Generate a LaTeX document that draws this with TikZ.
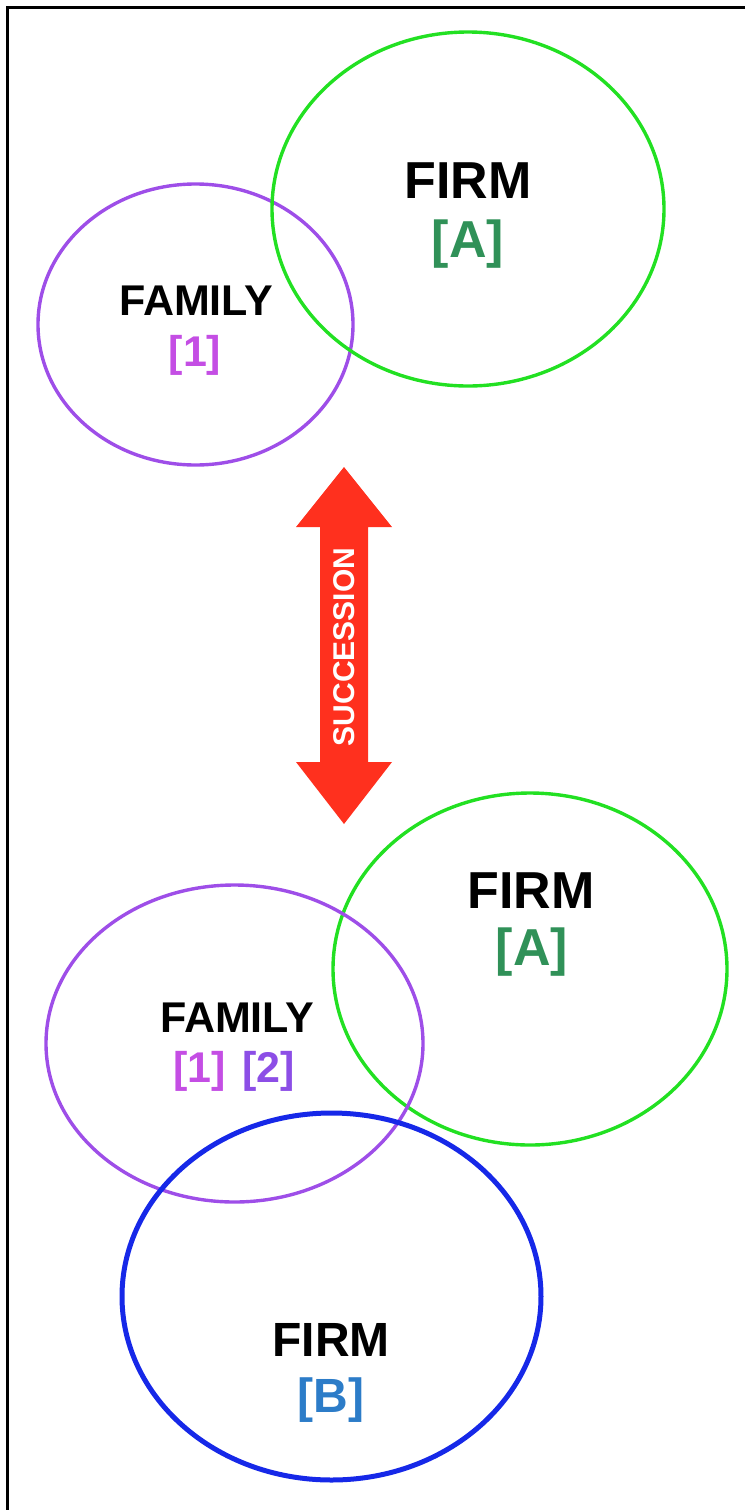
\documentclass[tikz,border=0pt]{standalone}
\usepackage{fontspec}
\setmainfont{Liberation Sans}
\begin{document}
\begin{tikzpicture}[x=1pt,y=-1pt,
  famring/.style={draw=famline,line width=3.4pt},
  firmring/.style={draw=firmline,line width=3.4pt},
  newfirmring/.style={draw=newfirmline,line width=5pt},
  bigtag/.style={anchor=base,inner sep=0pt,font=\bfseries\fontsize{52}{52}\selectfont},
  midtag/.style={anchor=base,inner sep=0pt,font=\bfseries\fontsize{48}{48}\selectfont},
  famtag/.style={anchor=base,inner sep=0pt,font=\bfseries\fontsize{43}{43}\selectfont},
  idA/.style={bigtag,text=idgreen},
]
\definecolor{famline}{RGB}{158,78,232}
\definecolor{firmline}{RGB}{34,224,34}
\definecolor{newfirmline}{RGB}{22,40,232}
\definecolor{idgreen}{RGB}{48,145,88}
\definecolor{idone}{RGB}{196,78,228}
\definecolor{idtwo}{RGB}{140,78,230}
\definecolor{idblue}{RGB}{44,124,200}
\definecolor{arrowred}{RGB}{255,48,30}

% page frame (top and left edges)
\useasboundingbox (0,0) rectangle (745,1510);
\draw[line width=3pt] (745,7) -- (7,7) -- (7,1510);

% before succession
\draw[famring] (195.5,324.5) ellipse [x radius=157.5, y radius=140.5];
\draw[firmring] (468,209) ellipse [x radius=196, y radius=177];
\node[bigtag] (firmA1) at (468,198) {FIRM};
\node[idA] (idA1) at (468,257) {[A]};
\node[famtag] (fam1) at (196,315) {FAMILY};
\node[famtag,text=idone] (id1) at (195,366) {[1]};

% succession arrow
\fill[arrowred] (344,467) -- (392,527) -- (368,527) -- (368,762) -- (392,762)
  -- (344,824) -- (296,762) -- (320,762) -- (320,527) -- (296,527) -- cycle;
\node[rotate=90,text=white,inner sep=0pt,font=\bfseries\fontsize{30}{30}\selectfont]
  (succ) at (344,647) {SUCCESSION};

% after succession
\draw[firmring] (530,969) ellipse [x radius=197, y radius=176];
\draw[famring] (234.5,1043.5) ellipse [x radius=188.5, y radius=158.5];
\draw[newfirmring] (331.5,1296.5) ellipse [x radius=209.5, y radius=183.5];
\node[bigtag] (firmA2) at (531,908) {FIRM};
\node[idA] (idA2) at (532,965) {[A]};
\node[famtag] (fam2) at (237,1032) {FAMILY};
\node[famtag,anchor=base east,text=idone] (id1b) at (226,1082) {[1]};
\node[famtag,anchor=base west,text=idtwo] (id2b) at (242,1082) {[2]};
\node[midtag] (firmB) at (331,1356) {FIRM};
\node[midtag,text=idblue] (idB) at (331,1412) {[B]};
\end{tikzpicture}
\end{document}
